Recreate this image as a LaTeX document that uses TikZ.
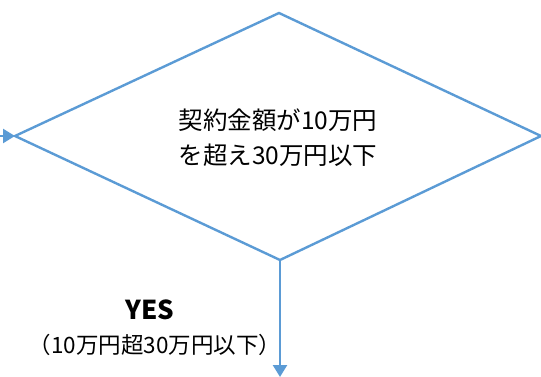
\documentclass[tikz,border=0pt]{standalone}
\usepackage{fontspec}
\newfontfamily\jp{Noto Sans CJK JP}
\usetikzlibrary{arrows.meta}
\definecolor{flow}{HTML}{5B9BD5}
\tikzset{
  edge/.style={draw=flow, line width=2.4pt, line join=miter},
  arr/.style={edge, -{Triangle[length=12pt,width=14pt]}},
  txt/.style={font=\jp\fontsize{24.5}{35}\selectfont, align=center, inner sep=0pt, text=black}
}
\begin{document}
\begin{tikzpicture}[x=1pt,y=-1pt]
\useasboundingbox (0,0) rectangle (541,377);
\coordinate (T) at (279,13);
\coordinate (L) at (15,136);
\coordinate (R) at (541,136);
\coordinate (B) at (280,260);
\coordinate (inL) at (0,136);
\coordinate (outB) at (280,377);
\draw[edge] (T) -- (R) -- (B) -- (L) -- cycle;
\draw[arr] (inL) -- (L);
\draw[arr] (B) -- (outB);
\node[txt] (q) at (278,138) {契約金額が10万円\\を超え30万円以下};
\node[txt, font=\jp\bfseries\fontsize{26}{30}\selectfont] (yes) at (150,310) {YES};
\node[txt, font=\jp\fontsize{22.5}{26}\selectfont] (cond) at (155,345) {（10万円超30万円以下）};
\end{tikzpicture}
\end{document}
